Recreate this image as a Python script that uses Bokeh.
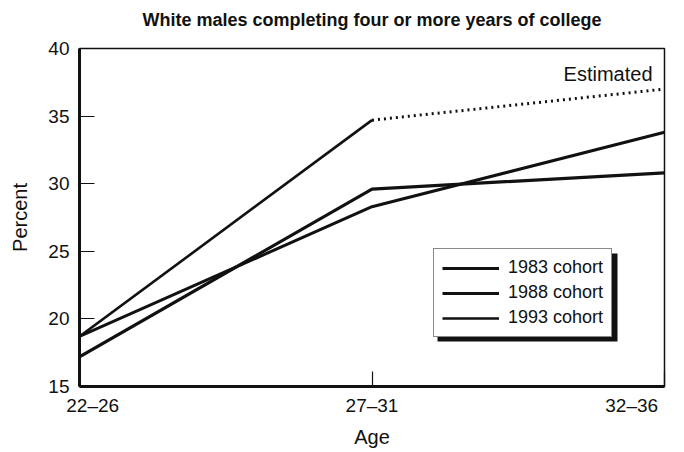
from bokeh.plotting import figure
from bokeh.models import Range1d, FixedTicker, Legend, LegendItem, Label, BoxAnnotation, Title
from bokeh.embed import file_html
from bokeh.resources import INLINE

# ---- data ----
title_text = "White males completing four or more years of college"
ages = ["22–26", "27–31", "32–36"]
age_pos = [0, 1, 2]
c1983 = [18.7, 28.3, 33.8]
c1988 = [17.2, 29.6, 30.8]
c1993 = [18.7, 34.7]            # actual
c1993_est_x = [1, 2]            # estimated segment
c1993_est = [34.7, 37.0]
y_ticks = [15, 20, 25, 30, 35, 40]

FONT = "Liberation Sans"
NB = "\u00a0" * 5   # nudges the end labels inward, as in the original
FW, FH = 585, 338

p = figure(frame_width=FW, frame_height=FH,
           x_range=Range1d(0, 2), y_range=Range1d(15, 40),
           output_backend="svg", toolbar_location=None,
           min_border_left=79, min_border_right=20,
           min_border_top=48, min_border_bottom=66)

# spacer between frame and title, then the title itself
p.add_layout(Title(text=" ", text_font_size="1px", standoff=9), "above")
p.add_layout(Title(text=title_text, text_font=FONT, text_font_size="18px",
                   text_font_style="bold", text_color="#111111",
                   align="center", standoff=14), "above")

p.grid.visible = False
p.outline_line_color = "#111111"
p.outline_line_width = 1.5
p.background_fill_color = "white"
p.border_fill_color = "white"

overrides = {age_pos[0]: NB + ages[0], age_pos[1]: ages[1], age_pos[2]: ages[2] + NB}
p.xaxis.ticker = FixedTicker(ticks=age_pos)
p.xaxis.major_label_overrides = overrides
p.yaxis.ticker = FixedTicker(ticks=y_ticks)
for ax in (p.xaxis, p.yaxis):
    ax.axis_line_width = 3
    ax.axis_line_color = "#111111"
    ax.major_tick_in = 15
    ax.major_tick_out = 0
    ax.major_tick_line_color = "#111111"
    ax.major_tick_line_width = 1.2
    ax.minor_tick_line_color = None
    ax.major_label_text_font = FONT
    ax.major_label_text_font_size = "19px"
    ax.major_label_text_color = "#111111"
    ax.axis_label_text_font = FONT
    ax.axis_label_text_font_size = "20px"
    ax.axis_label_text_font_style = "normal"
    ax.axis_label_text_color = "#111111"
p.xaxis.axis_label = "Age"
p.yaxis.axis_label = "Percent"
p.yaxis.major_label_standoff = 10
p.xaxis.major_label_standoff = 8
p.xaxis.axis_label_standoff = 7
p.yaxis.axis_label_standoff = 14

r83 = p.line(age_pos, c1983, line_color="#111111", line_width=3)
r88 = p.line(age_pos, c1988, line_color="#111111", line_width=3.2)
r93 = p.line(age_pos[:2], c1993, line_color="#111111", line_width=2.6)
p.line(c1993_est_x, c1993_est, line_color="#111111", line_width=3, line_dash="2 4")

p.add_layout(Label(x=2, y=38.1, x_offset=-12, text="Estimated",
                   text_font=FONT, text_font_size="20px", text_color="#111111",
                   text_align="right", text_baseline="middle"))

# legend box geometry (frame-relative screen px, y up from frame bottom)
LX, LY, LW, LH, SH = 354, 49, 180, 88, 4
shadow = BoxAnnotation(left=LX + SH, right=LX + LW + SH, bottom=LY - SH, top=LY + LH - SH,
                       left_units="screen", right_units="screen",
                       top_units="screen", bottom_units="screen",
                       fill_color="#111111", fill_alpha=1, line_color=None)
p.add_layout(shadow)

legend = Legend(items=[LegendItem(label="1983 cohort", renderers=[r83]),
                       LegendItem(label="1988 cohort", renderers=[r88]),
                       LegendItem(label="1993 cohort", renderers=[r93])],
                location=(LX, LY), orientation="vertical",
                border_line_color="#111111", border_line_width=1.5,
                background_fill_color="white", background_fill_alpha=1,
                label_text_font=FONT, label_text_font_size="18px",
                label_text_color="#111111",
                glyph_width=57, glyph_height=20, label_standoff=9,
                label_height=20, spacing=4, padding=8, margin=0)
p.add_layout(legend, "center")

open("out.html", "w").write(file_html(p, INLINE))
